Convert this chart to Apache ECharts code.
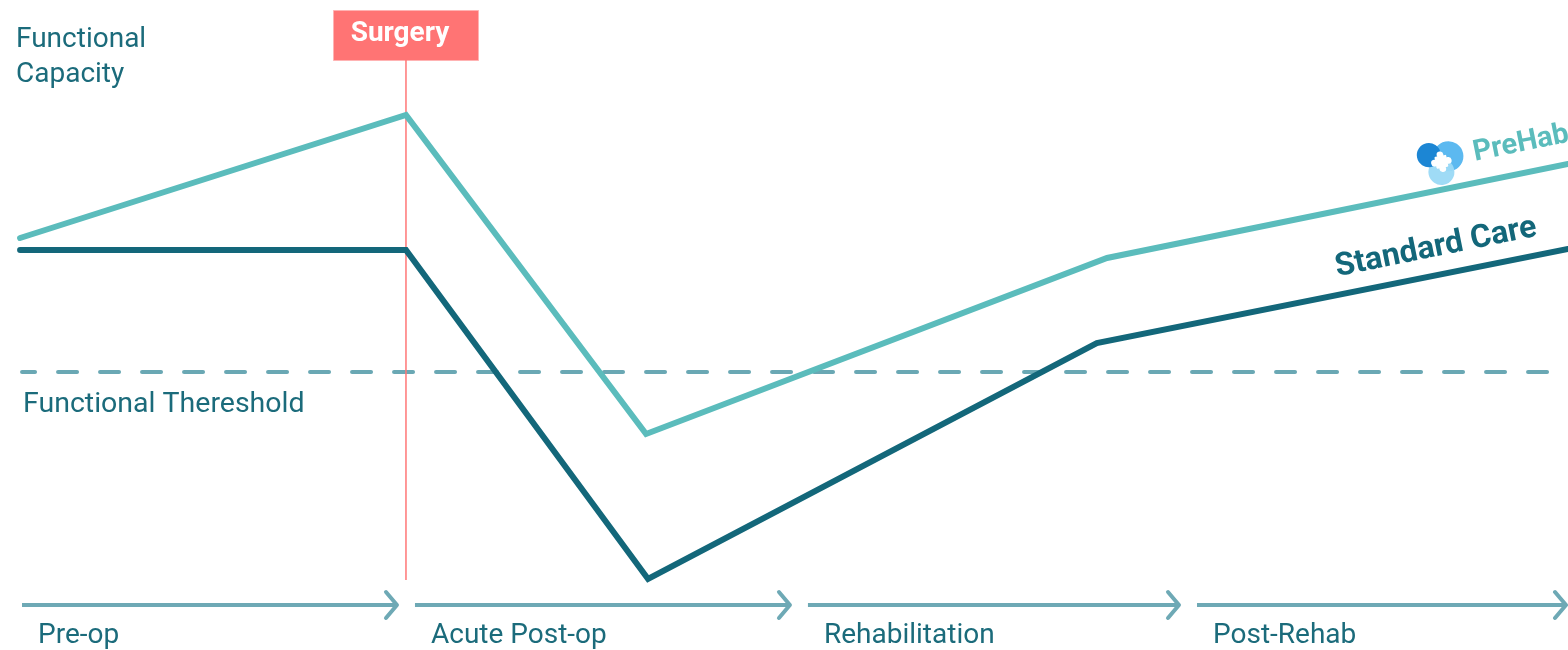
<!DOCTYPE html>
<html>
<head>
<meta charset="utf-8">
<script src="https://cdn.jsdelivr.net/npm/echarts@6/dist/echarts.min.js"></script>
<style>
html,body{margin:0;padding:0;background:#fff;}
#chart{width:1568px;height:650px;}
</style>
</head>
<body>
<div id="chart"></div>
<script>
// ---- data ----
const phaseNames = ['Pre-op', 'Acute Post-op', 'Rehabilitation', 'Post-Rehab'];
const phaseStart = [0, 1, 2, 2.99];
const phaseEnd = [1, 2, 2.99, 4];
const prehabX = [0.018, 1.0, 1.611, 2.784, 3.957];
const prehabY = [76.8, 101.4, 37.6, 72.8, 91.6];
const standardX = [0.018, 1.0, 1.616, 2.758, 3.957];
const standardY = [74.4, 74.4, 8.6, 55.8, 74.6];
const thresholdX = [0.023, 3.957];
const thresholdY = [50, 50];
const surgeryX = 1.0;
const surgeryYRange = [8.4, 112.4];
const arrowLevel = 3.4;

const TEXT = '#1b6b7b';
const PREHAB = '#5bbcbc';
const STANDARD = '#13677a';
const ARROW = '#6ea9b5';
const DASH = '#6aa8b4';
const SURG = '#ff7676';
const FONT = 'Roboto, "Noto Sans", sans-serif';

const chart = echarts.init(document.getElementById('chart'));

const zip = (xs, ys) => xs.map((x, i) => [x, ys[i]]);

chart.setOption({
  animation: false,
  grid: {left: 13, right: 0, top: 0, bottom: 0},
  xAxis: {type: 'value', min: 0, max: 3.957, show: false},
  yAxis: {type: 'value', min: -5.6, max: 124.4, show: false},
  series: [
    {
      type: 'line', name: 'Threshold', data: zip(thresholdX, thresholdY),
      showSymbol: false, silent: true,
      lineStyle: {color: DASH, width: 4, type: [19, 23], dashOffset: 6, cap: 'round'}
    },
    {
      type: 'line', name: 'Surgery', data: [[surgeryX, surgeryYRange[0]], [surgeryX, surgeryYRange[1]]],
      showSymbol: false, silent: true,
      lineStyle: {color: SURG, width: 1.5}
    },
    {
      type: 'line', name: 'Standard Care', data: zip(standardX, standardY),
      showSymbol: false, lineStyle: {color: STANDARD, width: 6, cap: 'round', join: 'miter'}
    },
    {
      type: 'line', name: 'PreHab', data: zip(prehabX, prehabY),
      showSymbol: false, lineStyle: {color: PREHAB, width: 6, cap: 'round', join: 'miter'}
    },
    {
      type: 'custom', name: 'Phases',
      data: phaseNames.map((n, i) => [phaseStart[i], phaseEnd[i], arrowLevel, n]),
      renderItem: function (params, api) {
        const s = api.coord([api.value(0), api.value(2)]);
        const e = api.coord([api.value(1), api.value(2)]);
        const x1 = s[0] + 9;
        const x2 = Math.min(e[0] - 9, api.getWidth() - 2);
        const y = s[1];
        return {
          type: 'group',
          children: [
            {type: 'line', shape: {x1: x1, y1: y, x2: x2, y2: y},
             style: {stroke: ARROW, lineWidth: 4}},
            {type: 'polyline', shape: {points: [[x2 - 11, y - 13], [x2, y], [x2 - 11, y + 13]]},
             style: {stroke: ARROW, lineWidth: 4, fill: null, lineCap: 'round', lineJoin: 'round'}},
            {type: 'text', x: x1 + 16, y: y + 31,
             style: {text: api.value(3), fill: TEXT, font: '28px ' + FONT, verticalAlign: 'middle', align: 'left'}}
          ]
        };
      }
    }
  ],
  graphic: [
    {type: 'text', left: 16, top: 22,
     style: {text: 'Functional\nCapacity', fill: TEXT, font: '28px ' + FONT, lineHeight: 35}},
    {type: 'text', x: 23, y: 405,
     style: {text: 'Functional Thereshold', fill: TEXT, font: '28.5px ' + FONT, verticalAlign: 'middle'}},
    {type: 'rect', shape: {x: 333.5, y: 10.5, width: 145, height: 50},
     style: {fill: '#ff7474', stroke: '#ffb3b3', lineWidth: 1}},
    {type: 'text', x: 400, y: 34,
     style: {text: 'Surgery', fill: '#fff', font: 'bold 28px ' + FONT, align: 'center', verticalAlign: 'middle'}},
    {type: 'text', x: 1436, y: 248, rotation: 0.2,
     style: {text: 'Standard Care', fill: STANDARD, font: 'bold 32px ' + FONT, align: 'center', verticalAlign: 'middle'}},
    {type: 'text', x: 1521, y: 144, rotation: 0.2,
     style: {text: 'PreHab', fill: PREHAB, font: 'bold 29px ' + FONT, align: 'center', verticalAlign: 'middle'}},
    // PreHab logo
    {type: 'group', x: 1440, y: 160, rotation: 0.2, children: [
      {type: 'circle', shape: {cx: 9, cy: -2, r: 15}, style: {fill: '#5cb9f0'}},
      {type: 'circle', shape: {cx: -1, cy: 12, r: 13}, style: {fill: '#9ad9f6', opacity: 0.95}},
      {type: 'circle', shape: {cx: -10, cy: -7, r: 12}, style: {fill: '#1c86d4'}},
      {type: 'rect', shape: {x: -5, y: -4, width: 12, height: 12, r: 1}, style: {fill: '#fff'}},
      {type: 'circle', shape: {cx: 1, cy: -5, r: 3.4}, style: {fill: '#fff'}},
      {type: 'circle', shape: {cx: 8, cy: 2, r: 3.4}, style: {fill: '#fff'}},
      {type: 'circle', shape: {cx: -6, cy: 2, r: 3.4}, style: {fill: '#fff'}},
      {type: 'circle', shape: {cx: 1, cy: 9, r: 3.4}, style: {fill: '#fff'}}
    ]}
  ]
});
</script>
</body>
</html>
